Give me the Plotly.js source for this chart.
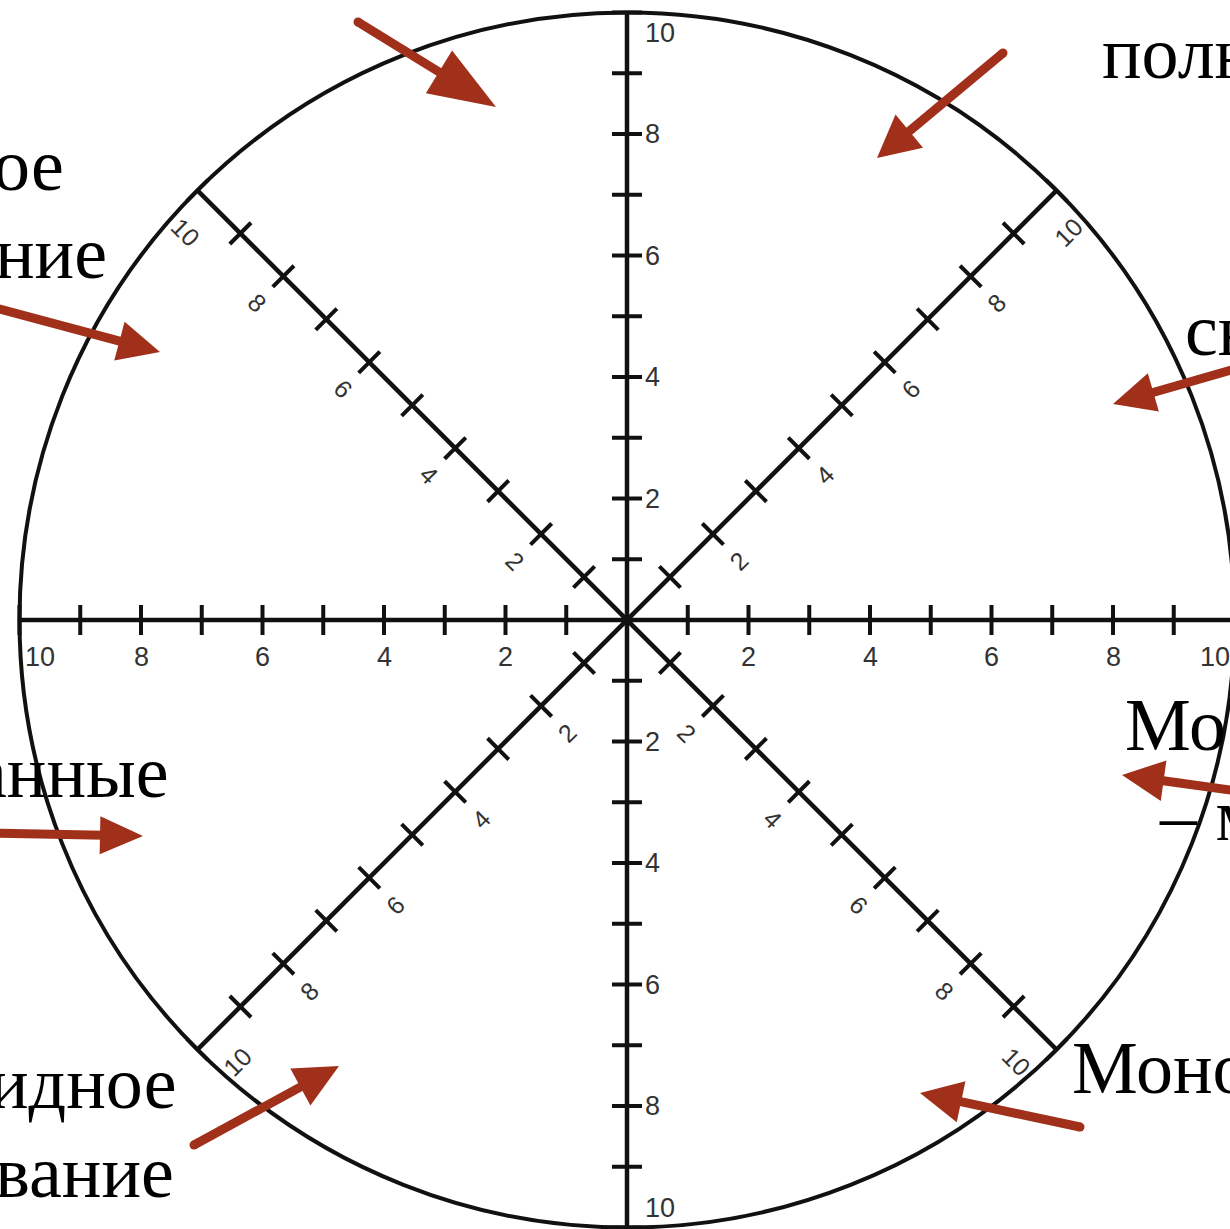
<!DOCTYPE html>
<html><head><meta charset="utf-8">
<script src="https://cdn.plot.ly/plotly-3.0.1.min.js"></script>
<style>html,body{margin:0;padding:0;background:#fff;overflow:hidden}</style>
</head><body><div id="chart" style="width:1230px;height:1229px"></div>
<script>
// ---------------- data ----------------
const axisMax = 10;
const tickValues = [1,2,3,4,5,6,7,8,9,10];
const labelValues = [2,4,6,8,10];
const labelTexts = ['2','4','6','8','10'];
const axisAngles = [0,45,90,135];            // full axes through the centre (degrees)
const rayAngles  = [0,180,90,270,45,135,225,315];
const leftWords  = ['ое','ние','анные','идное','вание'];
const rightWords = ['полн','сн','Мо','– м','Моно'];

// ---------------- layout constants ----------------
const W = 1230, H = 1229, CX = 627, CY = 620, S = 60.75; // px per unit
const tickHalf = 15 / S;
const inwardPx = 20;
const rayStyle = {
  0:   {off:[0,-37], ta:0,  xa:'center'},
  180: {off:[0,-37], ta:0,  xa:'center'},
  90:  {off:[16,0],  ta:0,  xa:'left'},
  270: {off:[16,0],  ta:0,  xa:'left'},
  45:  {off:[26,-27], ta:-45, xa:'center'},
  135: {off:[-26,-27], ta:45, xa:'center'},
  225: {off:[26,-27], ta:-45, xa:'center'},
  315: {off:[-26,-27], ta:45, xa:'center'}
};
const leftPos  = [[66,190],[109,278],[171,797],[179,1108],[176,1197]];   // [right edge x, baseline y] px
const rightPos = [[1100,78],[1183,355],[1123,750],[1157,840],[1070,1093]]; // [left edge x, baseline y] px
const arrows = [ // tail, tip (px), head length, head width
  {t:[358,22],   p:[496,107],  L:67, Wd:50},
  {t:[1003,53],  p:[877,158],  L:42, Wd:43},
  {t:[-8,307],   p:[160,352],  L:42, Wd:40},
  {t:[1245,366], p:[1113,404], L:42, Wd:40},
  {t:[1245,792], p:[1122,775], L:42, Wd:41},
  {t:[-8,833],   p:[143,836],  L:43, Wd:38},
  {t:[194,1145], p:[339,1066], L:44, Wd:42},
  {t:[1080,1127],p:[920,1093], L:42, Wd:42}
];
const arrowColor = '#a0301a';
const ink = '#111';

// ---------------- build traces ----------------
const traces = [];
const ax = {x:[], y:[]};
axisAngles.forEach(a => {
  const th = a*Math.PI/180, c = Math.cos(th), s = Math.sin(th);
  ax.x.push(-axisMax*c, axisMax*c, null);
  ax.y.push(-axisMax*s, axisMax*s, null);
});
traces.push({type:'scatter', mode:'lines', x:ax.x, y:ax.y, line:{color:ink, width:4.5}, hoverinfo:'skip', xaxis:'x', yaxis:'y'});
const tk = {x:[], y:[]};
axisAngles.forEach(a => {
  const th = a*Math.PI/180, c = Math.cos(th), s = Math.sin(th);
  const nx = -s, ny = c;
  tickValues.forEach(v => {
    [v, -v].forEach(u => {
      const px = u*c, py = u*s;
      tk.x.push(px - nx*tickHalf, px + nx*tickHalf, null);
      tk.y.push(py - ny*tickHalf, py + ny*tickHalf, null);
    });
  });
});
traces.push({type:'scatter', mode:'lines', x:tk.x, y:tk.y, line:{color:ink, width:4}, hoverinfo:'skip', xaxis:'x', yaxis:'y'});

arrows.forEach(ar => {
  const dx = ar.p[0]-ar.t[0], dy = ar.p[1]-ar.t[1];
  const len = Math.hypot(dx,dy), ux = dx/len, uy = dy/len, nx = -uy, ny = ux;
  const bx = ar.p[0]-ux*ar.L, by = ar.p[1]-uy*ar.L;
  traces.push({type:'scatter', mode:'lines', x:[ar.t[0], bx+ux*4], y:[ar.t[1], by+uy*4],
    line:{color:arrowColor, width:9}, hoverinfo:'skip', xaxis:'x2', yaxis:'y2'});
  traces.push({type:'scatter', mode:'markers', x:[ar.t[0]], y:[ar.t[1]],
    marker:{color:arrowColor, size:9}, hoverinfo:'skip', xaxis:'x2', yaxis:'y2'});
  traces.push({type:'scatter', mode:'lines', fill:'toself', fillcolor:arrowColor,
    x:[ar.p[0], bx+nx*ar.Wd/2, bx-nx*ar.Wd/2, ar.p[0]],
    y:[ar.p[1], by+ny*ar.Wd/2, by-ny*ar.Wd/2, ar.p[1]],
    line:{width:0, color:arrowColor}, hoverinfo:'skip', xaxis:'x2', yaxis:'y2'});
});

// ---------------- annotations ----------------
const ann = [];
const sans = 'Liberation Sans, Arial, sans-serif';
rayAngles.forEach(a => {
  const st = rayStyle[a];
  const th = a*Math.PI/180, c = Math.cos(th), s = Math.sin(th);
  const diag = (a % 90) !== 0;
  labelValues.forEach((v,i) => {
    const along = v - (v === axisMax ? inwardPx/S : 0);
    ann.push({xref:'x', yref:'y', x: along*c + st.off[0]/S, y: along*s + st.off[1]/S,
      text: labelTexts[i], showarrow:false, textangle: st.ta, xanchor: st.xa, yanchor:'middle',
      font:{family:sans, size: diag ? 25 : 27, color:'#333'}});
  });
});
const serif = 'Liberation Serif, Times New Roman, serif';
const fs = 74;
leftWords.forEach((w,i) => {
  ann.push({xref:'x2', yref:'y2', x:leftPos[i][0], y:leftPos[i][1]-0.34*fs, text:w, showarrow:false,
    xanchor:'right', yanchor:'middle', font:{family:serif, size:fs, color:'#000'}});
});
rightWords.forEach((w,i) => {
  ann.push({xref:'x2', yref:'y2', x:rightPos[i][0], y:rightPos[i][1]-0.34*fs, text:w, showarrow:false,
    xanchor:'left', yanchor:'middle', font:{family:serif, size:fs, color:'#000'}});
});

const layout = {
  width:W, height:H, margin:{l:0,r:0,t:0,b:0,pad:0},
  paper_bgcolor:'#fff', plot_bgcolor:'#fff', showlegend:false, hovermode:false,
  xaxis:{range:[-CX/S, (W-CX)/S], visible:false, fixedrange:true},
  yaxis:{range:[-(H-CY)/S, CY/S], visible:false, fixedrange:true},
  xaxis2:{range:[0,W], visible:false, overlaying:'x', anchor:'y2', fixedrange:true},
  yaxis2:{range:[H,0], visible:false, overlaying:'y', anchor:'x2', fixedrange:true},
  shapes:[{type:'circle', xref:'x', yref:'y', x0:-axisMax, x1:axisMax, y0:-axisMax, y1:axisMax,
    line:{color:ink, width:4}, layer:'below'}],
  annotations: ann
};
Plotly.newPlot('chart', traces, layout, {staticPlot:true, displayModeBar:false});
</script></body></html>
